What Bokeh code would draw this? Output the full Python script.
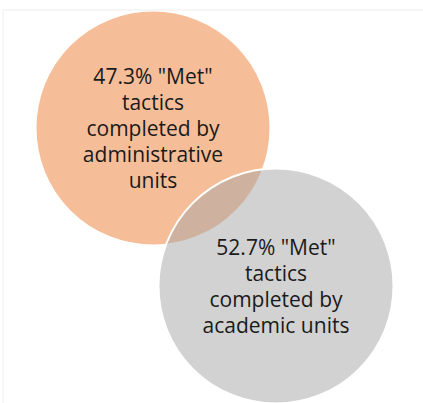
from bokeh.plotting import figure
from bokeh.models import Range1d, ColumnDataSource, BoxAnnotation
from bokeh.core.properties import value
from bokeh.embed import file_html
from bokeh.resources import INLINE

# ---- data ----
groups = ["administrative units", "academic units"]
met_share = [47.3, 52.7]
label_lines = [
    ['47.3% "Met"', "tactics", "completed by", "administrative", "units"],
    ['52.7% "Met"', "tactics", "completed by", "academic units"],
]
fill_colors = ["#ED7D31", "#A5A5A5"]

# ---- layout (pixel-like canvas coordinates) ----
W, H = 423, 403
cx = [152.5, 275.5]
cy = [127.5, 285.5]
R = 117.5

p = figure(width=W, height=H, output_backend="svg", toolbar_location=None,
           x_range=Range1d(0, W), y_range=Range1d(H, 0),
           min_border=0, margin=(0, -8, -8, 0))
p.axis.visible = False
p.grid.visible = False
p.outline_line_color = None
p.background_fill_color = "white"
p.border_fill_color = "white"

# frame of the original slide/chart area
p.add_layout(BoxAnnotation(left=2.5, top=9.5, right=W + 50, bottom=H + 50,
                           fill_alpha=0, line_color="#D9D9D9", line_width=1.5))

src = ColumnDataSource(dict(
    x=cx, y=cy, color=fill_colors,
    text=["\n".join(l) for l in label_lines],
    group=groups, share=met_share,
))

p.circle(x="x", y="y", radius=R, source=src, fill_color="color", fill_alpha=0.5,
         line_color="white", line_width=2)

p.text(x="x", y="y", text="text", source=src, text_align="center",
       text_baseline="middle", text_font=value("Open Sans"),
       text_font_size="21px", text_color="#1a1a1a", text_line_height=0.93)

open("out.html", "w").write(file_html(p, INLINE))
